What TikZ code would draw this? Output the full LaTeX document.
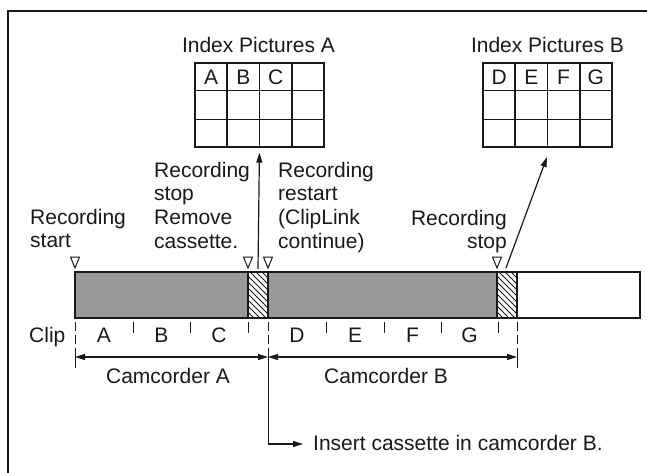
\documentclass[tikz,border=0pt]{standalone}
\usepackage{fontspec}
\setmainfont{Liberation Sans}
\usetikzlibrary{arrows.meta,calc}
\definecolor{bargray}{RGB}{153,153,153}
\definecolor{ink}{RGB}{25,25,25}
\begin{document}
\begin{tikzpicture}[x=1pt,y=-1pt,
  lbl/.style={inner sep=0pt, text=ink, font=\fontsize{21}{23.7}\selectfont},
  gridbox/.style={draw=ink, line width=1.3pt, minimum width=129pt, minimum height=84pt, inner sep=0pt},
  gridline/.style={draw=ink, line width=1.3pt},
  tri/.style={draw=ink, line width=1pt, fill=white, line join=miter},
  tick/.style={draw=ink, line width=1pt},
  longtick/.style={draw=ink, line width=1pt, dash pattern=on 9pt off 4pt on 9pt off 4pt on 300pt off 0pt},
  arr/.style={draw=ink, line width=1.2pt, -{Triangle[length=10pt,width=6pt]}},
  dblarr/.style={draw=ink, line width=1.2pt, {Triangle[length=10pt,width=6pt]}-{Triangle[length=10pt,width=6pt]}},
  hatchline/.style={draw=ink, line width=0.8pt}
]
\useasboundingbox (0,0) rectangle (647,473);

% frame (top and left edges)
\draw[ink, line width=1.3pt] (8,473) -- (8,11) -- (647,11);

% index picture grids
\node[lbl, anchor=base] (titleA) at (258.5,53) {Index Pictures A};
\node[lbl, anchor=base] (titleB) at (547.5,53) {Index Pictures B};
\node[gridbox] (gridA) at (259.5,105) {};
\node[gridbox] (gridB) at (547.5,105) {};
\foreach \g in {gridA,gridB}{
  \foreach \f in {0.25,0.5,0.75}
    \draw[gridline] ($(\g.north west)!\f!(\g.north east)$) -- ($(\g.south west)!\f!(\g.south east)$);
  \foreach \f in {0.3333,0.6667}
    \draw[gridline] ($(\g.north west)!\f!(\g.south west)$) -- ($(\g.north east)!\f!(\g.south east)$);
}
\node[lbl, anchor=base] (ia) at (211.1,85) {A};
\node[lbl, anchor=base] (ib) at (243.4,85) {B};
\node[lbl, anchor=base] (ic) at (275.6,85) {C};
\node[lbl, anchor=base] (id) at (499.1,85) {D};
\node[lbl, anchor=base] (ie) at (531.4,85) {E};
\node[lbl, anchor=base] (if) at (563.6,85) {F};
\node[lbl, anchor=base] (ig) at (595.9,85) {G};

% recording bar
\fill[bargray] (75,272) rectangle (248,318);
\fill[bargray] (268,272) rectangle (497,318);
\begin{scope}
  \clip (248,272) rectangle (268,318);
  \foreach \k in {-52,-46,...,22}
    \draw[hatchline] (248+\k,272) -- ++(46,46);
\end{scope}
\begin{scope}
  \clip (497,272) rectangle (517,318);
  \foreach \k in {-52,-46,...,22}
    \draw[hatchline] (497+\k,272) -- ++(46,46);
\end{scope}
\draw[ink, line width=1.5pt] (248,272) -- (248,318) (268,272) -- (268,318)
  (497,272) -- (497,318) (517,272) -- (517,318);
\draw[ink, line width=1.5pt] (75,272) rectangle (640,318);

% markers
\foreach \x in {75,248,268,497}
  \draw[tri] (\x-4.5,257) -- (\x+4.5,257) -- (\x,268) -- cycle;

% annotations
\node[lbl, anchor=north west, align=left] (rstart) at (30,208.6) {Recording\\start};
\node[lbl, anchor=north west, align=left] (rstop) at (154,161.6) {Recording\\stop\\Remove\\cassette.};
\node[lbl, anchor=north west, align=left] (rrestart) at (278,161.6) {Recording\\restart\\(ClipLink\\continue)};
\node[lbl, anchor=north east, align=right] (rstop2) at (507,209.6) {Recording\\stop};

% arrows to index pictures
\coordinate (hA) at (258,269);
\coordinate (hB) at (506,268);
\draw[arr, shorten >=5pt] (hA) -- (gridA.south);
\draw[arr] (hB) -- (547,157);

% clip ticks
\foreach \x in {133,190,248,326,384,441,498}
  \draw[tick] (\x,322) -- (\x,333);
\coordinate (t0) at (75,322);
\coordinate (t1) at (268,322);
\coordinate (t2) at (517,322);
\draw[longtick] (t0) -- (75,368);
\draw[longtick] (t2) -- (517,368);
\coordinate (ins) at (268,444);
\draw[longtick] (t1) -- (ins);
\draw[arr] (ins) -- (303,444);

% clip labels
\node[lbl, anchor=base west] (clip) at (29,342) {Clip};
\node[lbl, anchor=base] (ca) at (104,342) {A};
\node[lbl, anchor=base] (cb) at (161.5,342) {B};
\node[lbl, anchor=base] (cc) at (219,342) {C};
\node[lbl, anchor=base] (cd) at (297,342) {D};
\node[lbl, anchor=base] (ce) at (355,342) {E};
\node[lbl, anchor=base] (cf) at (412.5,342) {F};
\node[lbl, anchor=base] (cg) at (469.5,342) {G};

% camcorder spans
\coordinate (sa) at (75,357);
\coordinate (sm) at (268,357);
\coordinate (sb) at (517,357);
\draw[dblarr] (sa) -- (sm);
\draw[dblarr] (sm) -- (sb);
\node[lbl, anchor=base] (camA) at (168,383) {Camcorder A};
\node[lbl, anchor=base] (camB) at (386,383) {Camcorder B};

\node[lbl, anchor=base west] (insert) at (313,450.5) {Insert cassette in camcorder B.};
\end{tikzpicture}
\end{document}
